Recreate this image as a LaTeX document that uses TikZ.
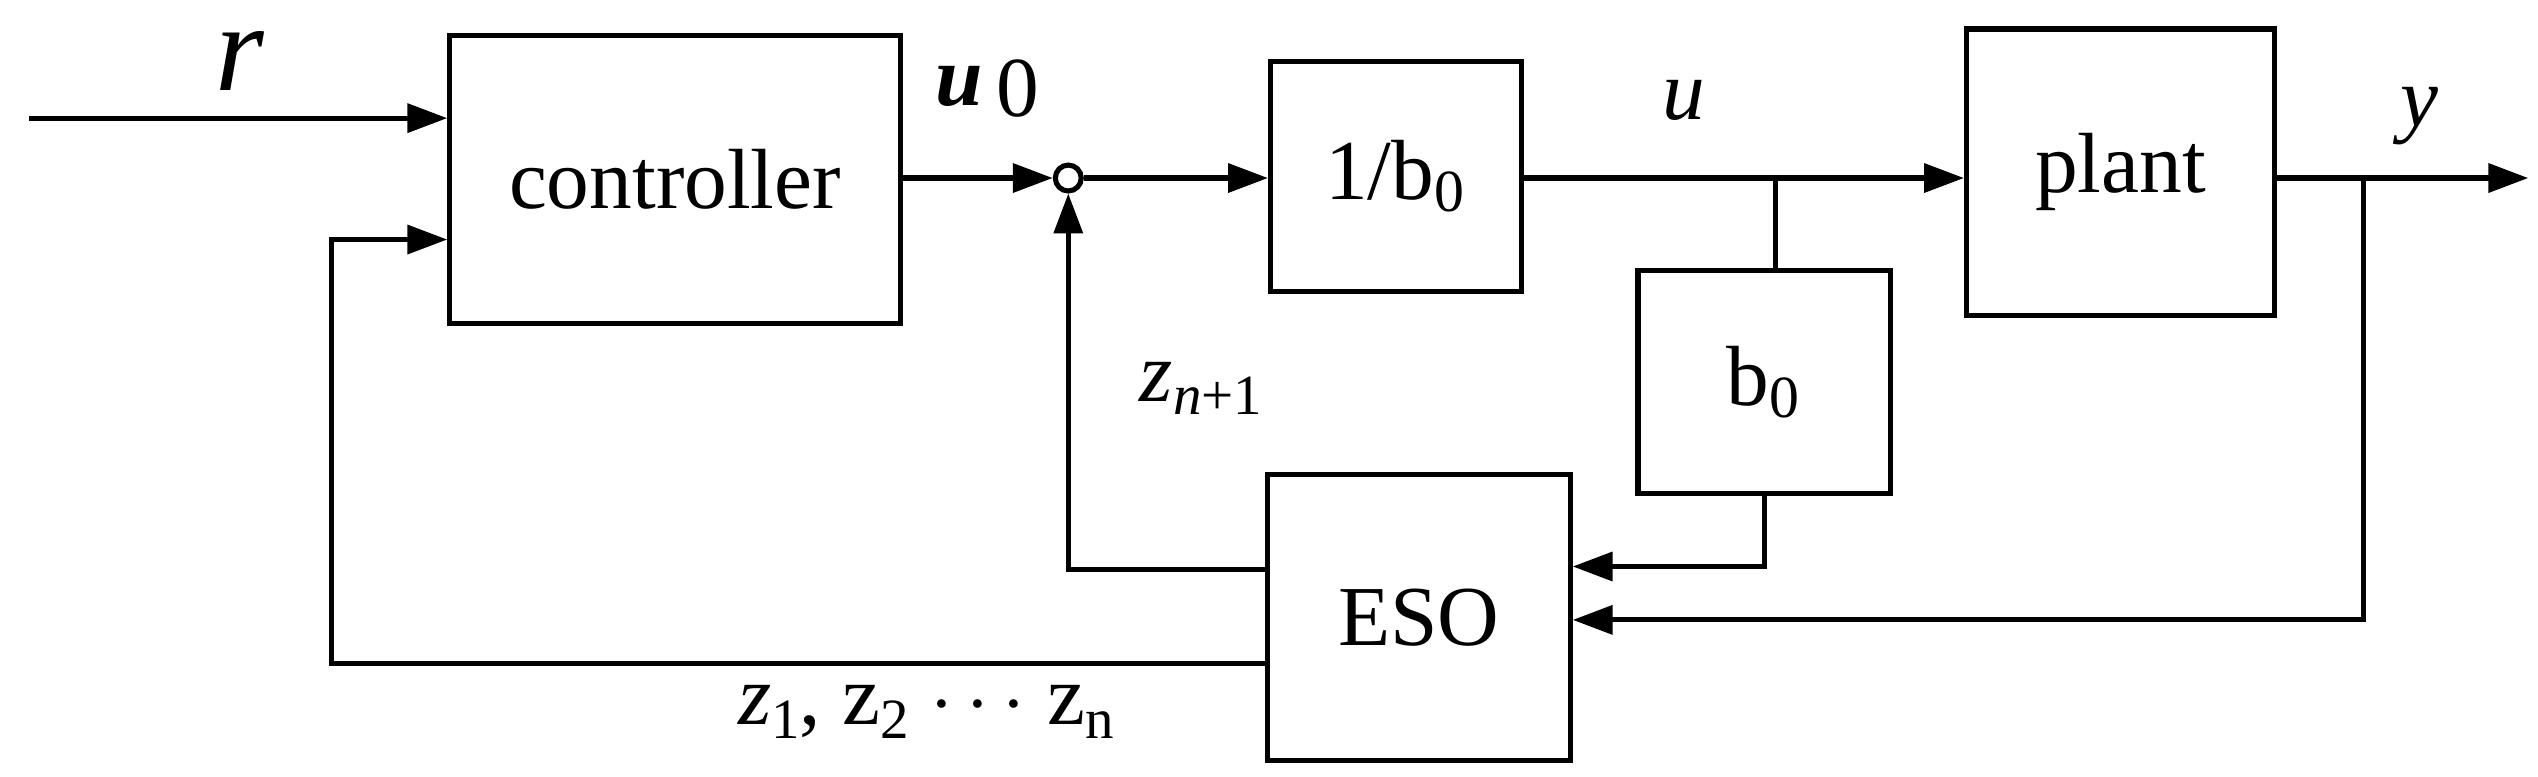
\documentclass[tikz,border=0pt]{standalone}
\usepackage{fontspec}
\setmainfont{Liberation Serif}
\usetikzlibrary{arrows.meta}
\newcommand{\sbs}[1]{\raisebox{-0.35ex}{\fontsize{10}{12}\selectfont #1}}
\begin{document}
\begin{tikzpicture}[x=0.01cm,y=-0.01cm,
  blk/.style={draw,line width=0.9pt,inner sep=0pt,font=\fontsize{15}{17}\selectfont},
  ln/.style={line width=0.9pt},
  ar/.style={ln,-{Triangle[length=7pt,width=5pt]}},
  lab/.style={font=\fontsize{15}{17}\selectfont\itshape}]
\useasboundingbox (0,0) rectangle (1568,480);
\node[blk,minimum width=2.78cm,minimum height=1.78cm] (ctrl) at (417,111) {controller};
\node[blk,minimum width=1.55cm,minimum height=1.42cm] (inv) at (862.5,109) {1/b\textsubscript{0}};
\node[blk,minimum width=1.90cm,minimum height=1.77cm] (plant) at (1310,106.5) {plant};
\node[blk,minimum width=1.56cm,minimum height=1.38cm] (b0) at (1090,236) {b\textsubscript{0}};
\node[blk,minimum width=1.87cm,minimum height=1.77cm] (eso) at (876.5,381.5) {ESO};
\node[draw,circle,line width=0.9pt,minimum size=0.16cm,inner sep=0pt] (sum) at (660,110) {};
\coordinate (rin) at (18,73);
\coordinate (yout) at (1562,110);
\coordinate (bu) at (1097,110);
\coordinate (by) at (1460,110);
\draw[ar] (rin) -- (rin -| ctrl.west);
\draw[ar] (ctrl.east |- sum) -- (sum.west);
\draw[ar] (sum.east) -- (sum -| inv.west);
\draw[ar] (inv.east |- bu) -- (bu -| plant.west);
\draw[ln] (bu) -- (bu |- b0.north);
\draw[ar] (plant.east |- by) -- (yout);
\draw[ar] (by) -- (1460,383) -- (eso.east |- 0,383);
\draw[ar] (b0.south -| 1090,0) -- (1090,350) -- (eso.east |- 0,350);
\draw[ar] (eso.west |- 0,352) -- (660,352) -- (sum.south);
\draw[ar] (eso.west |- 0,410) -- (205,410) -- (205,148) -- (ctrl.west |- 0,148);
\node[lab,font=\fontsize{22}{24}\selectfont\itshape] (r) at (148,38) {r};
\node[lab] (u0) at (610,55) {\bfseries u\,\raisebox{-0.3ex}{\mdseries\upshape 0}};
\node[lab] (u) at (1040,62) {u};
\node[lab] (y) at (1495,72) {y};
\node[lab] (zn1) at (742,240) {z\sbs{n\upshape+1}};
\node[lab] (zs) at (572,440) {z\sbs{\upshape 1}\upshape, z\sbs{\upshape 2} \upshape$\cdots$ z\sbs{n}};
\end{tikzpicture}
\end{document}
